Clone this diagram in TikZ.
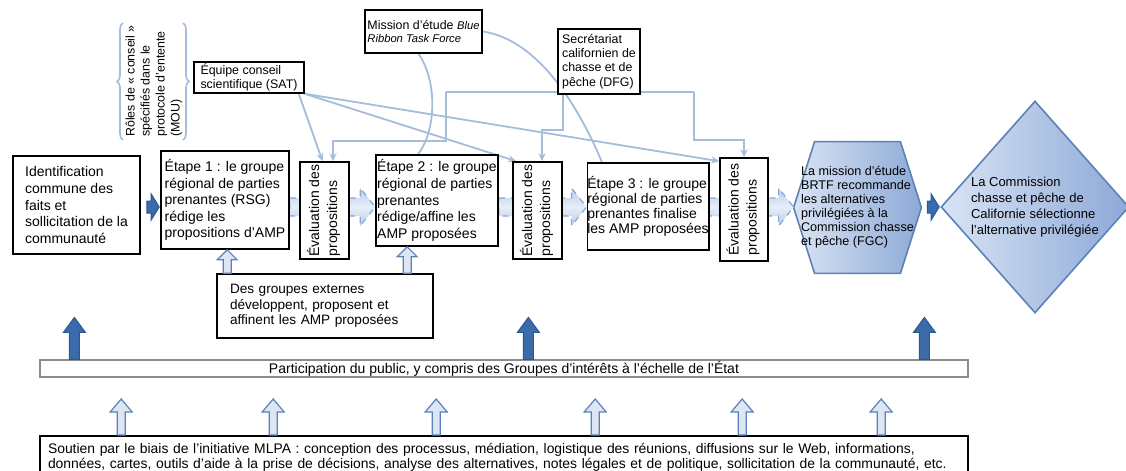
\documentclass[tikz,border=0pt]{standalone}
\usepackage{fontspec}
\setmainfont{Liberation Sans}
\usepackage{graphicx}
\usetikzlibrary{calc,shapes.geometric,arrows.meta,backgrounds,decorations.pathreplacing}

\definecolor{linkblue}{HTML}{A5BCDA}
\definecolor{darkblue}{HTML}{3B6BAA}
\definecolor{darkedge}{HTML}{2C5891}
\definecolor{paleblue}{HTML}{DCE6F4}
\definecolor{midblue}{HTML}{5B82B8}
\definecolor{bandblue}{HTML}{B9CDE9}
\definecolor{bandedge}{HTML}{86A7D5}
\definecolor{hexlight}{HTML}{D9E4F4}
\definecolor{hexdark}{HTML}{8DA9D7}

\newcommand{\setfs}[2]{\fontsize{#1pt}{#2pt}\selectfont}
\newcommand{\evaltext}{\rotatebox{90}{\begin{tabular}{@{}l@{}}Évaluation des\\propositions\end{tabular}}}

\begin{document}
\begin{tikzpicture}[x=0.5pt, y=-0.5pt,
    box/.style={draw, line width=0.8pt, fill=white, inner sep=0pt, align=left, font=\setfs{7}{8.3}},
    evalbox/.style={box, minimum width=24.5pt, minimum height=48.5pt, font=\setfs{7}{9}},
    link/.style={draw=linkblue, line width=0.9pt},
    lhead/.style={-{Stealth[length=4pt,width=3.6pt]}},
    darkarr/.style={fill=darkblue, draw=darkedge, line width=0.5pt},
    hollowarr/.style={fill=paleblue, draw=midblue, line width=0.6pt},
    band/.style={top color=bandblue, bottom color=bandblue, middle color=bandblue!35, draw=bandedge, dashed, line width=0.6pt},
    hexfill/.style={left color=hexlight, right color=hexdark, draw=midblue, line width=0.8pt},
    brace/.style={draw=linkblue, line width=0.8pt, decorate, decoration={brace, amplitude=3pt}},
  ]
  \useasboundingbox (0,0) rectangle (1126,471);
  \coordinate (axis) at (0,207);

  % main chain
  \node[box, minimum width=63.5pt, minimum height=49pt] (id) at (76.5,205)
    {Identification\\commune des\\faits et\\sollicitation de la\\communauté};
  \node[box, minimum width=64pt, minimum height=49pt] (e1) at (225,200)
    {Étape 1 : le groupe\\régional de parties\\prenantes (RSG)\\rédige les\\propositions d’AMP};
  \node[evalbox] (ev1) at (324.5,210.5) {\evaltext};
  \node[box, minimum width=61pt, minimum height=45.5pt] (e2) at (437,200.5)
    {Étape 2 : le groupe\\régional de parties\\prenantes\\rédige/affine les\\AMP proposées};
  \node[evalbox] (ev2) at (537.5,210.5) {\evaltext};
  \node[box, minimum width=59pt, minimum height=43.5pt, font=\setfs{7}{7.6}] (e3) at (648,206.5)
    {Étape 3 : le groupe\\régional de parties\\prenantes finalise\\les AMP proposées};
  \node[evalbox, minimum width=24pt, minimum height=51.5pt] (ev3) at (744,209.5) {\evaltext};
  \node[align=left, inner sep=0pt, minimum width=63.5pt, minimum height=65.5pt, font=\setfs{6.3}{7}] (hx) at (857.5,207.5)
    {La mission d’étude\\BRTF recommande\\les alternatives\\privilégiées à la\\Commission chasse\\et pêche (FGC)};
  \node[diamond, aspect=1, hexfill, minimum width=90.5pt, minimum height=106pt, inner sep=0pt, align=left, font=\setfs{6.5}{8}] (dm) at (1035,207)
    {La Commission\\chasse et pêche de\\Californie sélectionne\\l’alternative privilégiée};

  % advisory bodies
  \node[rotate=90, align=left, inner sep=0pt, font=\setfs{6.2}{7.5}] (mou) at (154,81)
    {Rôles de «~conseil~»\\spécifiés dans le\\protocole d’entente\\(MOU)};
  \draw[brace] (123,140) -- (123,23);
  \draw[brace] (183,23) -- (183,140);
  \node[box, minimum width=55pt, minimum height=15.5pt, font=\setfs{6.2}{6.6}] (sat) at (249,77.5)
    {Équipe conseil\\scientifique (SAT)};
  \node[box, minimum width=58.5pt, minimum height=21.5pt, font=\setfs{6.2}{6.2}] (mis) at (423.5,31.5)
    {Mission d’étude {\itshape\setfs{5.6}{6.2}Blue}\\{\itshape\setfs{5.6}{6.2}Ribbon Task Force}};
  \node[box, minimum width=41pt, minimum height=32.5pt, font=\setfs{6.2}{7.2}] (dfg) at (599,61.5)
    {Secrétariat\\californien de\\chasse et de\\pêche (DFG)};

  % lower boxes
  \node[box, text width=95pt, inner xsep=6.5pt, minimum height=32pt, font=\setfs{6.8}{7.8}] (ext) at (325,306)
    {Des groupes externes\\développent, proposent et\\affinent les AMP proposées};
  \node[draw=black!45, line width=0.6pt, fill=white, minimum width=464pt, minimum height=8.5pt, inner sep=0pt, font=\setfs{7}{8}] (pp) at (504,368.5)
    {Participation du public, y compris des Groupes d’intérêts à l’échelle de l’État};
  \node[box, anchor=north, text width=456pt, inner xsep=4pt, minimum height=21.5pt, font=\setfs{6.95}{7.3}] (sp) at (504,435)
    {Soutien par le biais de l’initiative MLPA : conception des processus, médiation, logistique des réunions, diffusions sur le Web, informations,\\données, cartes, outils d’aide à la prise de décisions, analyse des alternatives, notes légales et de politique, sollicitation de la communauté, etc.};

  \begin{scope}[on background layer]
    \draw[hexfill] (hx.west) -- ($(hx.north west)+(21,0)$) -- ($(hx.north east)+(-21,0)$) -- (hx.east)
      -- ($(hx.south east)+(-21,0)$) -- ($(hx.south west)+(21,0)$) -- cycle;
    % shaded steps
    \foreach \a/\b in {e1/e2,e2/e3,e3/hx}{
      \coordinate (s) at (\a.east |- axis);
      \coordinate (t) at (\b.west |- axis);
      \draw[band] ($(s)+(0,-9)$) -- ($(t)+(-15,-9)$) -- ($(t)+(-15,-19)$) -- (t)
        -- ($(t)+(-15,19)$) -- ($(t)+(-15,9)$) -- ($(s)+(0,9)$) -- cycle;
    }
    % SAT
    \draw[link, lhead] ($(sat.south east)+(-6,0)$) -- ($(ev1.north)+(-2,0)$);
    \draw[link, lhead] (sat.south east) -- ($(ev2.north west)+(4,0)$);
    \draw[link, lhead] (sat.south east) -- ($(ev3.north west)+(0,4)$);
    % DFG
    \coordinate (dl) at ($(dfg.south west)+(-111,-3)$);
    \coordinate (dr) at ($(dfg.south east)+(53,-3)$);
    \draw[link] (dl) -- (dr);
    \draw[link, lhead] (dl) -- ++(0,49) -| ($(ev1.north)+(8.5,0)$);
    \draw[link, lhead] ($(dfg.south)+(-36,0)$) -- ++(0,35) -| ($(ev2.north)+(4.5,0)$);
    \draw[link, lhead] (dr) -- ++(0,48) -| (ev3.north);
    % Blue Ribbon
    \draw[link] ($(mis.south)+(-5,0)$) .. controls (437,80) and (437,130) .. ($(e2.north)+(-19,0)$);
    \draw[link] (mis.east) .. controls (540,40) and (580,110) .. ($(e3.north)+(-46,0)$);
  \end{scope}

  % block arrows
  \foreach \a/\b in {id/e1,hx/dm}{
    \coordinate (s) at ($(\a.east |- axis)+(6,0)$);
    \coordinate (t) at ($(\b.west |- axis)+(-1,0)$);
    \draw[darkarr] ($(s)+(0,-6)$) -- ($(t)+(-8,-6)$) -- ($(t)+(-8,-13)$) -- (t)
      -- ($(t)+(-8,13)$) -- ($(t)+(-8,6)$) -- ($(s)+(0,6)$) -- cycle;
  }
  \foreach \dx/\tgt in {11/e1,191/e2}{
    \coordinate (b) at ($(ext.north west)+(\dx,0)$);
    \coordinate (t) at (b |- \tgt.south);
    \draw[hollowarr] ($(b)+(-4,0)$) -- ($(t)+(-4,10)$) -- ($(t)+(-10,10)$) -- (t)
      -- ($(t)+(10,10)$) -- ($(t)+(4,10)$) -- ($(b)+(4,0)$) -- cycle;
  }
  \foreach \dx in {35,489,885}{
    \coordinate (b) at ($(pp.north west)+(\dx,0)$);
    \draw[darkarr, shift={(b)}] (-5,0) -- (-5,-27) -- (-11,-27) -- (0,-42) -- (11,-27) -- (5,-27) -- (5,0) -- cycle;
  }
  \foreach \dx in {82,234,397,556,703,842}{
    \coordinate (b) at ($(sp.north west)+(\dx,0)$);
    \draw[hollowarr, shift={(b)}] (-4,0) -- (-4,-23) -- (-11,-23) -- (0,-36) -- (11,-23) -- (4,-23) -- (4,0) -- cycle;
  }
\end{tikzpicture}
\end{document}
